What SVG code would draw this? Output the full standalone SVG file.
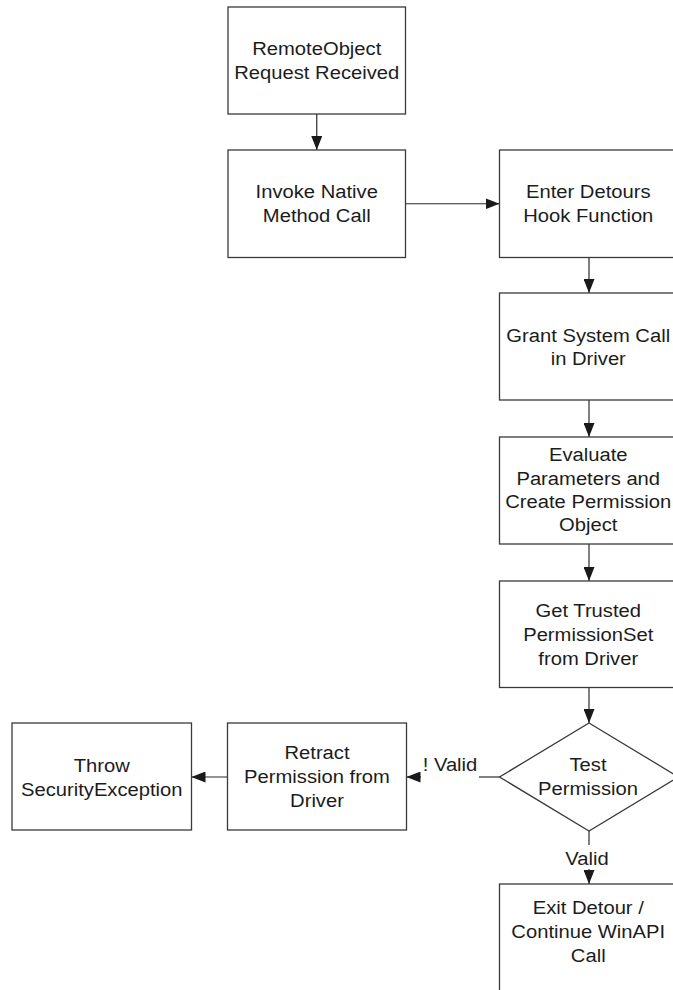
<svg xmlns="http://www.w3.org/2000/svg" width="673" height="990" viewBox="0 0 673 990">
  <style>
    .box { fill: #ffffff; stroke: #3a3a3a; stroke-width: 1.3; }
    .edge { fill: none; stroke: #2a2a2a; stroke-width: 1.2; }
    .lbl { font-family: "Liberation Sans", Arial, Helvetica, sans-serif; font-size: 18.8px; fill: #1c1c1c; text-anchor: middle; }
  </style>
  <defs>
    <marker id="arrow" viewBox="0 0 14 11" refX="14" refY="5.5" markerWidth="14" markerHeight="11" markerUnits="userSpaceOnUse" orient="auto">
      <path d="M0,0 L14,5.5 L0,11 Z" fill="#1a1a1a"/>
    </marker>
  </defs>
  <rect width="673" height="990" fill="#ffffff"/>

  <!-- connectors -->
  <g id="connectors">
    <line class="edge" x1="316.75" y1="114" x2="316.75" y2="150" marker-end="url(#arrow)"/>
    <line class="edge" x1="405.5" y1="203.75" x2="499.5" y2="203.75" marker-end="url(#arrow)"/>
    <line class="edge" x1="589" y1="257.5" x2="589" y2="293" marker-end="url(#arrow)"/>
    <line class="edge" x1="589" y1="400" x2="589" y2="437" marker-end="url(#arrow)"/>
    <line class="edge" x1="589" y1="544" x2="589" y2="581" marker-end="url(#arrow)"/>
    <line class="edge" x1="589" y1="687.5" x2="589" y2="723" marker-end="url(#arrow)"/>
    <!-- Valid branch -->
    <line class="edge" x1="589" y1="831" x2="589" y2="845"/>
    <text class="lbl" transform="translate(587,865) scale(1.075,1)">Valid</text>
    <line class="edge" x1="589" y1="869" x2="589" y2="884" marker-end="url(#arrow)"/>
    <!-- ! Valid branch -->
    <line class="edge" x1="499.5" y1="777" x2="479" y2="777"/>
    <text class="lbl" transform="translate(450,771) scale(1.075,1)">! Valid</text>
    <line class="edge" x1="421" y1="777" x2="406.5" y2="777" marker-end="url(#arrow)"/>
    <line class="edge" x1="227.5" y1="777" x2="191.5" y2="777" marker-end="url(#arrow)"/>
  </g>

  <g id="request-received">
    <rect class="box" x="228" y="7" width="177.5" height="107"/>
    <text class="lbl" transform="translate(316.75,55) scale(1.075,1)">RemoteObject</text>
    <text class="lbl" transform="translate(316.75,79) scale(1.075,1)">Request Received</text>
  </g>

  <g id="invoke-native">
    <rect class="box" x="228" y="150" width="177.5" height="107.5"/>
    <text class="lbl" transform="translate(316.75,198) scale(1.075,1)">Invoke Native</text>
    <text class="lbl" transform="translate(316.75,222) scale(1.075,1)">Method Call</text>
  </g>

  <g id="enter-detours">
    <rect class="box" x="499.5" y="150" width="178" height="107.5"/>
    <text class="lbl" transform="translate(588.25,198) scale(1.075,1)">Enter Detours</text>
    <text class="lbl" transform="translate(588.25,222) scale(1.075,1)">Hook Function</text>
  </g>

  <g id="grant-system-call">
    <rect class="box" x="499.5" y="293" width="178" height="107"/>
    <text class="lbl" transform="translate(588.25,341.5) scale(1.075,1)">Grant System Call</text>
    <text class="lbl" transform="translate(588.25,364.5) scale(1.075,1)">in Driver</text>
  </g>

  <g id="evaluate-parameters">
    <rect class="box" x="499.5" y="437" width="178" height="107"/>
    <text class="lbl" transform="translate(588.25,461) scale(1.075,1)">Evaluate</text>
    <text class="lbl" transform="translate(588.25,484.5) scale(1.075,1)">Parameters and</text>
    <text class="lbl" transform="translate(588.25,508) scale(1.075,1)">Create Permission</text>
    <text class="lbl" transform="translate(588.25,531) scale(1.075,1)">Object</text>
  </g>

  <g id="get-trusted">
    <rect class="box" x="499.5" y="581" width="178" height="106.5"/>
    <text class="lbl" transform="translate(588.25,616.75) scale(1.075,1)">Get Trusted</text>
    <text class="lbl" transform="translate(588.25,640.75) scale(1.075,1)">PermissionSet</text>
    <text class="lbl" transform="translate(588.25,664.75) scale(1.075,1)">from Driver</text>
  </g>

  <g id="test-permission">
    <polygon class="box" points="589,723 678.5,777 589,831 499.5,777"/>
    <text class="lbl" transform="translate(588,770.5) scale(1.075,1)">Test</text>
    <text class="lbl" transform="translate(588,794.5) scale(1.075,1)">Permission</text>
  </g>

  <g id="exit-detour">
    <rect class="box" x="499.5" y="884" width="178" height="107"/>
    <text class="lbl" transform="translate(588.25,914) scale(1.075,1)">Exit Detour /</text>
    <text class="lbl" transform="translate(588.25,938) scale(1.075,1)">Continue WinAPI</text>
    <text class="lbl" transform="translate(588.25,962) scale(1.075,1)">Call</text>
  </g>

  <g id="retract-permission">
    <rect class="box" x="227.5" y="723" width="179" height="107"/>
    <text class="lbl" transform="translate(317,759) scale(1.075,1)">Retract</text>
    <text class="lbl" transform="translate(317,783) scale(1.075,1)">Permission from</text>
    <text class="lbl" transform="translate(317,807) scale(1.075,1)">Driver</text>
  </g>

  <g id="throw-exception">
    <rect class="box" x="12" y="723" width="179.5" height="107"/>
    <text class="lbl" transform="translate(101.75,771.5) scale(1.075,1)">Throw</text>
    <text class="lbl" transform="translate(101.75,795.5) scale(1.075,1)">SecurityException</text>
  </g>
</svg>
